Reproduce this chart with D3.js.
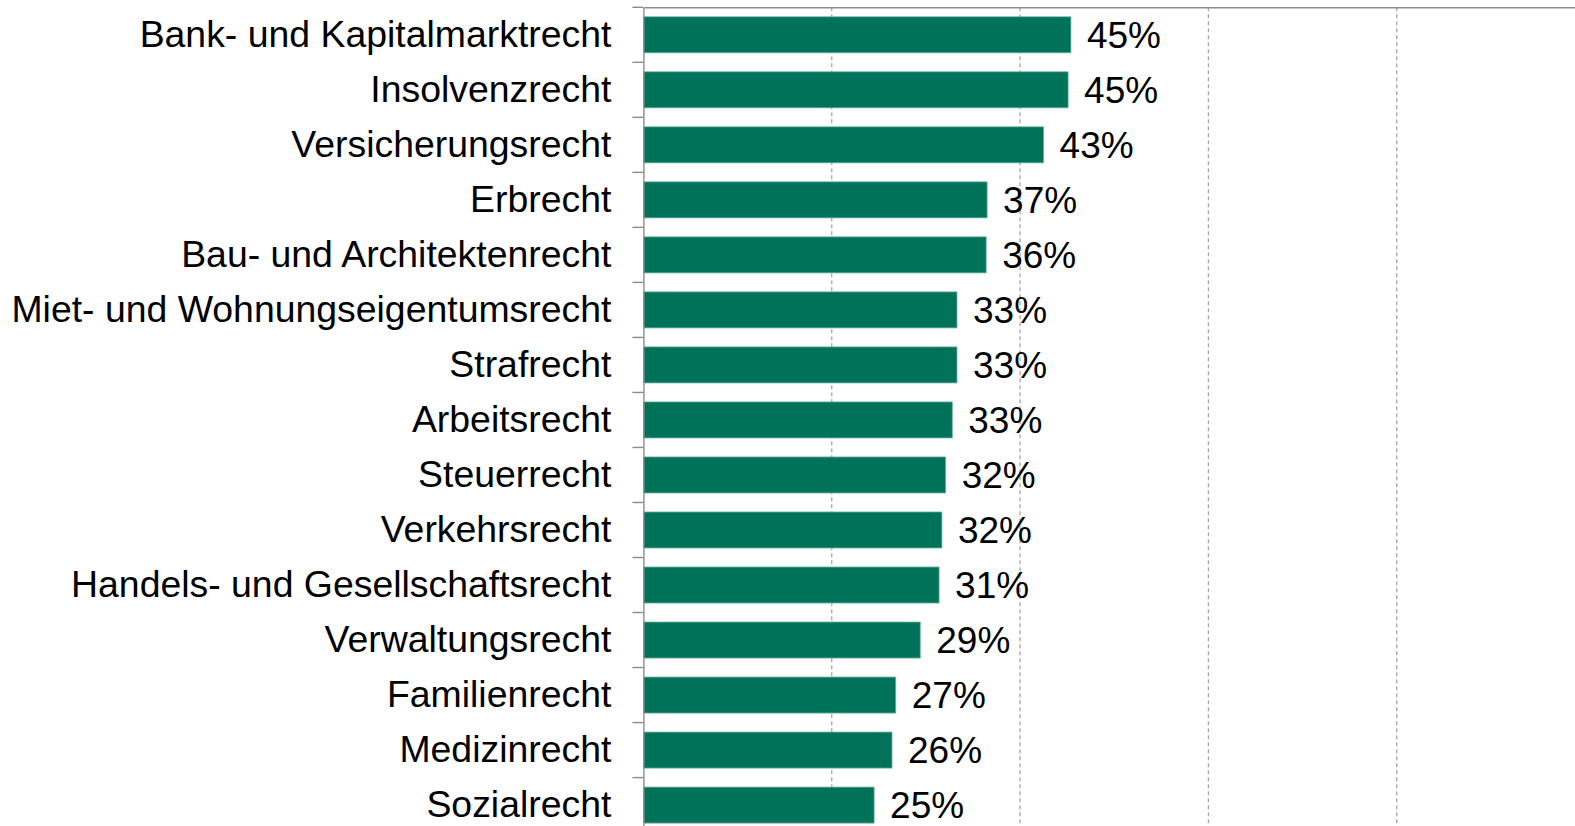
<!DOCTYPE html>
<html>
<head>
<meta charset="utf-8">
<script src="https://cdn.jsdelivr.net/npm/d3@7"></script>
<style>
  html, body { margin: 0; padding: 0; background: #fff; overflow: hidden; }
  svg text { font-family: "Liberation Sans", Arial, sans-serif; fill: #000; }
</style>
</head>
<body>
<div id="wrapper"></div>
<script>
// categories, top to bottom
const categories = [
  "Bank- und Kapitalmarktrecht",
  "Insolvenzrecht",
  "Versicherungsrecht",
  "Erbrecht",
  "Bau- und Architektenrecht",
  "Miet- und Wohnungseigentumsrecht",
  "Strafrecht",
  "Arbeitsrecht",
  "Steuerrecht",
  "Verkehrsrecht",
  "Handels- und Gesellschaftsrecht",
  "Verwaltungsrecht",
  "Familienrecht",
  "Medizinrecht",
  "Sozialrecht"
];
// share in percent
const values = [45.4, 45.1, 42.5, 36.5, 36.4, 33.3, 33.3, 32.8, 32.1, 31.7, 31.4, 29.4, 26.8, 26.4, 24.5];
const valueLabels = ["45%", "45%", "43%", "37%", "36%", "33%", "33%", "33%", "32%", "32%", "31%", "29%", "27%", "26%", "25%"];
const gridTicks = [20, 40, 60, 80, 100];

const W = 1575, H = 826;
const plot = {left: 643.4, right: 1585.1, top: 7.3, bottom: 832.6};

const svg = d3.select("#wrapper")
  .append("svg")
    .attr("width", W)
    .attr("height", H);

const x = d3.scaleLinear()
  .domain([0, 100])
  .range([plot.left, plot.right]);

const y = d3.scaleBand()
  .domain(categories)
  .range([plot.top, plot.bottom])
  .paddingInner(0.345)
  .paddingOuter(0.1725);

/* dashed vertical gridlines */
svg.append("g")
  .selectAll("line")
  .data(gridTicks)
  .enter()
  .append("line")
    .attr("x1", d => x(d))
    .attr("x2", d => x(d))
    .attr("y1", plot.top)
    .attr("y2", plot.bottom)
    .attr("stroke", "#a6a6a6")
    .attr("stroke-width", 1.3)
    .attr("stroke-dasharray", "4,3");

/* value axis sits on top, no labels */
svg.append("g")
  .attr("transform", "translate(0," + plot.top + ")")
  .call(d3.axisTop(x).tickValues([]).tickSizeOuter(0))
  .call(g => g.select(".domain").attr("stroke", "#8c8c8c").attr("stroke-width", 1.4));

/* bars */
svg.selectAll("rect.bar")
  .data(categories)
  .enter()
  .append("rect")
    .attr("class", "bar")
    .attr("x", x(0))
    .attr("y", d => y(d))
    .attr("width", (d, i) => x(values[i]) - x(0))
    .attr("height", y.bandwidth())
    .attr("fill", "#007259")
    .attr("stroke", "#6fb5a2")
    .attr("stroke-width", 0.8);

/* category axis with labels */
const yAxis = svg.append("g")
  .attr("transform", "translate(" + plot.left + ",0)")
  .call(d3.axisLeft(y).tickSize(0).tickPadding(32).tickSizeOuter(0));
yAxis.select(".domain").attr("stroke", "#8c8c8c").attr("stroke-width", 1.4);
yAxis.selectAll("text")
  .style("font-size", "37.4px")
  .attr("font-family", null);

/* tick marks between categories */
const step = y.step();
const edges = categories.map(d => y(d) - step * y.paddingInner() / 2);
svg.append("g")
  .selectAll("line")
  .data(edges)
  .enter()
  .append("line")
    .attr("x1", plot.left - 11)
    .attr("x2", plot.left)
    .attr("y1", d => d)
    .attr("y2", d => d)
    .attr("stroke", "#8c8c8c")
    .attr("stroke-width", 1.4);

/* value labels */
svg.selectAll("text.val")
  .data(categories)
  .enter()
  .append("text")
    .attr("class", "val")
    .attr("x", (d, i) => x(values[i]) + 16)
    .attr("y", d => y(d) + y.bandwidth() / 2)
    .attr("dy", "0.35em")
    .style("font-size", "37px")
    .text((d, i) => valueLabels[i]);
</script>
</body>
</html>
